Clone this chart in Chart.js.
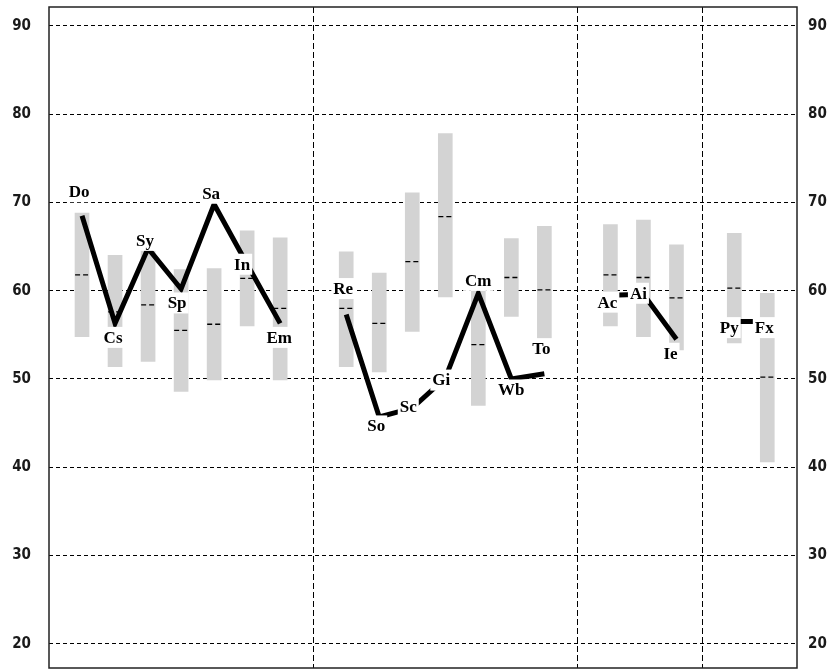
<!DOCTYPE html>
<html>
<head>
<meta charset="utf-8">
<script src="https://cdn.jsdelivr.net/npm/chart.js@4.4.1/dist/chart.umd.min.js"></script>
<style>
    html, body { margin: 0; background: #fff; }
    canvas { display: block; }
</style>
</head>
<body>
<canvas id="scores" width="828" height="670"></canvas>
<script>
// codes, in the order they sit along the x axis
const codes = ['Do', 'Cs', 'Sy', 'Sp', 'Sa', 'In', 'Em',
               'Re', 'So', 'Sc', 'Gi', 'Cm', 'Wb', 'To',
               'Ac', 'Ai', 'Ie',
               'Py', 'Fx'];
const groupOf = [0, 0, 0, 0, 0, 0, 0, 1, 1, 1, 1, 1, 1, 1, 2, 2, 2, 3, 3];
const xPos = [1, 2, 3, 4, 5, 6, 7, 9, 10, 11, 12, 13, 14, 15, 17, 18, 19, 20.75, 21.75];
const dividers = [8, 16, 19.8];

// observed score (black line)
const score = [68.5, 56.3, 64.8, 60.2, 69.8, 63.0, 56.3,
               57.3, 45.7, 46.7, 50.1, 59.7, 50.0, 50.6,
               59.5, 59.6, 54.5,
               56.5, 56.5];
// reference range (grey bars) and its middle
const rangeLow = [54.8, 51.4, 52.0, 48.6, 49.9, 56.0, 49.9,
                  51.4, 50.8, 55.4, 59.3, 47.0, 57.1, 54.6,
                  56.0, 54.8, 53.3,
                  54.1, 40.6];
const rangeHigh = [68.8, 64.0, 64.8, 62.4, 62.5, 66.8, 66.0,
                   64.4, 62.0, 71.1, 77.8, 60.6, 65.9, 67.3,
                   67.5, 68.0, 65.2,
                   66.5, 59.7];
const rangeMid = [61.8, 57.6, 58.4, 55.5, 56.2, 61.4, 58.0,
                  58.0, 56.3, 63.3, 68.4, 53.9, 61.5, 60.1,
                  61.8, 61.5, 59.2,
                  60.3, 50.2];
const yTicks = [20, 30, 40, 50, 60, 70, 80, 90];

// where each code label sits relative to its point, in px
const labelOffset = [[-3, -24], [-2, 14], [-3, -8], [-4, 14], [-3, -11], [-5, 0], [-1, 14],
                     [-3, -26], [-3, 9], [-4, -1], [-4, 2], [0, -13], [0, 11], [-3, -25],
                     [-3, 7], [-5, -1], [-6, 14],
                     [-5, 6], [-3, 6]];

const Y_MIN = 17.25, Y_MAX = 92.15;
const tickFont = {family: '"DejaVu Sans Condensed", "DejaVu Sans", sans-serif', size: 15, weight: 'bold'};

// black line, broken between groups
const linePoints = [];
codes.forEach((c, i) => {
    if (i > 0 && groupOf[i] !== groupOf[i - 1]) {
        linePoints.push({x: xPos[i] - 0.5, y: null});
    }
    linePoints.push({x: xPos[i], y: score[i]});
});

// short dashed tick across each bar at its middle
const midPoints = [];
codes.forEach((c, i) => {
    midPoints.push({x: xPos[i] - 0.21, y: rangeMid[i]});
    midPoints.push({x: xPos[i] + 0.21, y: rangeMid[i]});
    midPoints.push({x: xPos[i] + 0.5, y: null});
});

const noPad = s => { s.paddingTop = 0; s.paddingBottom = 0; s.paddingLeft = 0; s.paddingRight = 0; };

const codeLabels = {
    id: 'codeLabels',
    afterDraw(chart) {
        const {ctx, chartArea: a, scales: {x, y}} = chart;
        ctx.save();
        ctx.lineWidth = 1.5;
        ctx.strokeStyle = '#222';
        ctx.strokeRect(a.left, a.top, a.right - a.left, a.bottom - a.top);

        ctx.font = 'bold 17px "Liberation Serif", "DejaVu Serif", serif';
        ctx.textAlign = 'center';
        ctx.textBaseline = 'middle';
        codes.forEach((code, i) => {
            const [dx, dy] = labelOffset[i];
            const px = x.getPixelForValue(xPos[i]) + dx;
            const py = y.getPixelForValue(score[i]) + dy;
            const w = ctx.measureText(code).width + 4;
            ctx.fillStyle = '#fff';
            ctx.fillRect(px - w / 2, py - 10.5, w, 21);
            ctx.fillStyle = '#000';
            ctx.fillText(code, px, py + 1);
        });
        ctx.restore();
    }
};

new Chart(document.getElementById('scores'), {
    type: 'bar',
    data: {
        datasets: [
            {
                type: 'line',
                data: linePoints,
                borderColor: '#000',
                borderWidth: 5,
                borderJoinStyle: 'miter',
                borderCapStyle: 'butt',
                pointRadius: 0,
                tension: 0,
                spanGaps: false,
                order: 1,
            },
            {
                type: 'line',
                data: midPoints,
                borderColor: '#000',
                borderWidth: 1.3,
                borderDash: [5, 3],
                pointRadius: 0,
                spanGaps: false,
                order: 2,
            },
            {
                type: 'bar',
                data: codes.map((c, i) => ({x: xPos[i], y: [rangeLow[i], rangeHigh[i]]})),
                backgroundColor: '#d3d3d3',
                barThickness: 14,
                order: 3,
            }
        ]
    },
    options: {
        responsive: false,
        animation: false,
        devicePixelRatio: 1,
        layout: {padding: {top: 7, bottom: 2, left: 0, right: 0}},
        plugins: {legend: {display: false}, tooltip: {enabled: false}},
        scales: {
            x: {
                type: 'linear',
                min: 0,
                max: 22.65,
                offset: false,
                z: 1,
                afterBuildTicks: s => { s.ticks = dividers.map(v => ({value: v})); },
                afterFit: s => { s.height = 0; noPad(s); },
                ticks: {display: false},
                grid: {color: '#000', lineWidth: 1, drawTicks: false, offset: false},
                border: {display: false, dash: [6, 3]},
            },
            y: {
                type: 'linear',
                position: 'left',
                min: Y_MIN,
                max: Y_MAX,
                z: 1,
                afterBuildTicks: s => { s.ticks = yTicks.map(v => ({value: v})); },
                afterFit: s => { s.width = 49; noPad(s); },
                ticks: {padding: 18, color: '#1a1a1a', font: tickFont},
                grid: {color: '#000', lineWidth: 1, drawTicks: false},
                border: {display: false, dash: [4, 3]},
            },
            y2: {
                type: 'linear',
                position: 'right',
                min: Y_MIN,
                max: Y_MAX,
                afterBuildTicks: s => { s.ticks = yTicks.map(v => ({value: v})); },
                afterFit: s => { s.width = 31; noPad(s); },
                ticks: {padding: 11, color: '#1a1a1a', font: tickFont},
                grid: {display: false, drawTicks: false},
                border: {display: false},
            }
        }
    },
    plugins: [codeLabels]
});
</script>
</body>
</html>
